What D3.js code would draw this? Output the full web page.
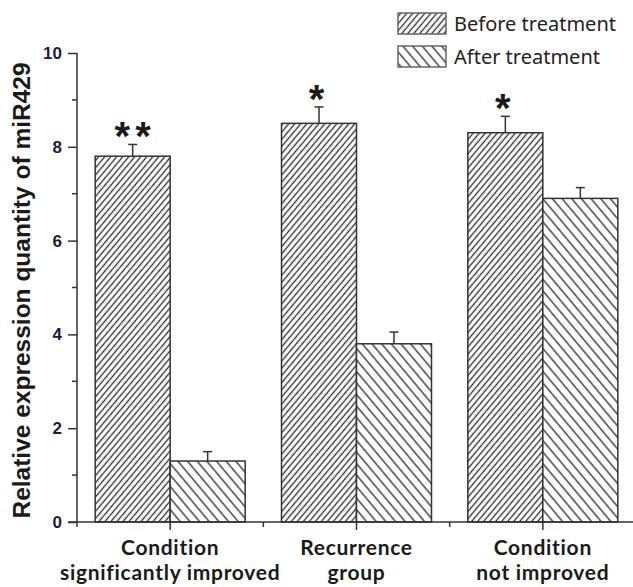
<!DOCTYPE html>
<html lang="en">
<head>
  <meta charset="utf-8">
  <title>miR429 expression</title>
  <script src="https://d3js.org/d3.v7.min.js"></script>
  <style>
    html, body { margin:0; padding:0; background:#fff; }
    svg { display:block; }
  </style>
</head>
<body>
  <div id="chart"></div>
  <script>
    // ─── Data ────────────────────────────────────────────────────────────────
    const categories = ["improved", "recurrence", "notImproved"];
    const categoryLabels = [
      ["Condition", "significantly improved"],
      ["Recurrence", "group"],
      ["Condition", "not improved"]
    ];
    const seriesNames = ["Before treatment", "After treatment"];
    const beforeMean = [7.8, 8.5, 8.3];
    const beforeErr  = [0.25, 0.35, 0.35];
    const afterMean  = [1.3, 3.8, 6.9];
    const afterErr   = [0.2, 0.25, 0.23];
    const stars      = ["**", "*", "*"];
    const yMajorTicks = [0, 2, 4, 6, 8, 10];
    const yMinorTicks = [1, 3, 5, 7, 9];
    const yTitle = "Relative expression quantity of miR429";
    // ─────────────────────────────────────────────────────────────────────────

    const W = 633, H = 587;
    const svg = d3.select("#chart").append("svg")
      .attr("width", W).attr("height", H);

    // Hatch patterns
    const defs = svg.append("defs");
    function hatch(id, gap, angle, width) {
      const p = defs.append("pattern")
        .attr("id", id)
        .attr("patternUnits", "userSpaceOnUse")
        .attr("width", gap).attr("height", gap)
        .attr("patternTransform", `rotate(${angle})`);
      p.append("rect").attr("width", gap).attr("height", gap).attr("fill", "#fff");
      p.append("line")
        .attr("x1", gap / 2).attr("x2", gap / 2)
        .attr("y1", 0).attr("y2", gap)
        .attr("stroke", "#2a2a2a").attr("stroke-width", width);
    }
    hatch("hatchBefore", 4.6, 40, 1.3);
    hatch("hatchAfter", 7.4, -40, 1.3);
    const fills = ["url(#hatchBefore)", "url(#hatchAfter)"];

    // Scales
    const x0 = d3.scaleBand()
      .domain(categories)
      .range([77, 636])
      .paddingInner(0.195)
      .paddingOuter(0.0975);
    const x1 = d3.scaleBand()
      .domain(seriesNames)
      .range([0, x0.bandwidth()]);
    const y = d3.scaleLinear().domain([0, 10]).range([522, 53]);

    const rows = categories.map((c, i) => ({
      cat: c,
      bars: [
        { s: seriesNames[0], v: beforeMean[i], e: beforeErr[i] },
        { s: seriesNames[1], v: afterMean[i],  e: afterErr[i] }
      ],
      star: stars[i]
    }));

    // Bars
    const groups = svg.append("g").selectAll("g")
      .data(rows).join("g")
      .attr("transform", d => `translate(${x0(d.cat)},0)`);

    groups.selectAll("rect")
      .data(d => d.bars).join("rect")
      .attr("x", d => x1(d.s))
      .attr("y", d => y(d.v))
      .attr("width", x1.bandwidth())
      .attr("height", d => y(0) - y(d.v))
      .attr("fill", (d, i) => fills[i])
      .attr("stroke", "#333")
      .attr("stroke-width", 1.5);

    // Error bars (upper only)
    groups.selectAll("g.err")
      .data(d => d.bars).join("g")
      .attr("class", "err")
      .each(function(d) {
        const cx = x1(d.s) + x1.bandwidth() / 2;
        const g = d3.select(this);
        g.append("line")
          .attr("x1", cx).attr("x2", cx)
          .attr("y1", y(d.v)).attr("y2", y(d.v + d.e))
          .attr("stroke", "#333").attr("stroke-width", 1.5);
        g.append("line")
          .attr("x1", cx - 4.5).attr("x2", cx + 4.5)
          .attr("y1", y(d.v + d.e)).attr("y2", y(d.v + d.e))
          .attr("stroke", "#333").attr("stroke-width", 1.5);
      });

    // Significance stars above the "before" bar
    groups.append("text")
      .attr("x", d => x1(seriesNames[0]) + x1.bandwidth() / 2 + (d.star.length - 1) * 2.5)
      .attr("y", d => y(d.bars[0].v + d.bars[0].e) + 6)
      .attr("text-anchor", "middle")
      .style("font-family", "'Liberation Sans', Arial, sans-serif")
      .style("font-weight", "bold")
      .style("font-size", "40px")
      .style("letter-spacing", "5px")
      .style("fill", "#1a1a1a")
      .text(d => d.star);

    // Y axis
    const yAxis = svg.append("g")
      .attr("transform", "translate(77,0)")
      .call(d3.axisLeft(y).tickValues(yMajorTicks).tickSize(9).tickPadding(6).tickFormat(d3.format("d")));
    yAxis.select(".domain").remove();
    yAxis.selectAll(".tick line").attr("stroke", "#333").attr("stroke-width", 1.5);
    yAxis.selectAll(".tick text")
      .style("font-family", "'Liberation Sans', Arial, sans-serif")
      .style("font-weight", "bold")
      .style("font-size", "17px")
      .style("fill", "#1c1c38");
    yAxis.selectAll(".minor")
      .data(yMinorTicks).join("line")
      .attr("class", "minor")
      .attr("x1", -5).attr("x2", 0)
      .attr("y1", d => y(d)).attr("y2", d => y(d))
      .attr("stroke", "#333").attr("stroke-width", 1.5);
    yAxis.append("line")
      .attr("x1", 0).attr("x2", 0)
      .attr("y1", y(10)).attr("y2", y(0) + 5)
      .attr("stroke", "#333").attr("stroke-width", 1.5);

    // X axis
    const xAxis = svg.append("g").attr("transform", `translate(0,${y(0)})`);
    xAxis.append("line")
      .attr("x1", 68).attr("x2", W)
      .attr("y1", 0).attr("y2", 0)
      .attr("stroke", "#333").attr("stroke-width", 1.5);
    const centers = categories.map(c => x0(c) + x0.bandwidth() / 2);
    xAxis.selectAll("line.major")
      .data(centers).join("line")
      .attr("class", "major")
      .attr("x1", d => d).attr("x2", d => d)
      .attr("y1", 0).attr("y2", 8)
      .attr("stroke", "#333").attr("stroke-width", 1.5);
    const bounds = categories.slice(1).map(c => x0(c) - x0.step() * x0.paddingOuter());
    xAxis.selectAll("line.minor")
      .data(bounds).join("line")
      .attr("class", "minor")
      .attr("x1", d => d).attr("x2", d => d)
      .attr("y1", 0).attr("y2", 5)
      .attr("stroke", "#333").attr("stroke-width", 1.5);

    // Category labels, two lines each
    categoryLabels.forEach((lines, i) => {
      lines.forEach((ln, k) => {
        xAxis.append("text")
          .attr("x", centers[i])
          .attr("y", k === 0 ? 32.5 : 57.8)
          .attr("text-anchor", "middle")
          .style("font-family", "Lato, 'Noto Sans', sans-serif")
          .style("font-weight", "bold")
          .style("font-size", "21px")
          .style("letter-spacing", "0.7px")
          .style("fill", "#1a1a1a")
          .text(ln);
      });
    });

    // Y title
    svg.append("text")
      .attr("transform", `translate(30,${(y(0) + y(10)) / 2 + 3}) rotate(-90)`)
      .attr("text-anchor", "middle")
      .style("font-family", "'Liberation Sans', Arial, sans-serif")
      .style("font-weight", "bold")
      .style("font-size", "24.5px")
      .style("fill", "#1a1a1a")
      .text(yTitle);

    // Legend
    const legend = svg.append("g").attr("transform", "translate(398,13)");
    seriesNames.forEach((s, i) => {
      const g = legend.append("g").attr("transform", `translate(0,${i * 33})`);
      g.append("rect")
        .attr("width", 48).attr("height", 21)
        .attr("fill", fills[i])
        .attr("stroke", "#666").attr("stroke-width", 1.5);
      g.append("text")
        .attr("x", 56).attr("y", 18)
        .style("font-family", "'Noto Sans', 'Open Sans', sans-serif")
        .style("font-size", "20px")
        .style("fill", "#222")
        .text(s);
    });
  </script>
</body>
</html>
